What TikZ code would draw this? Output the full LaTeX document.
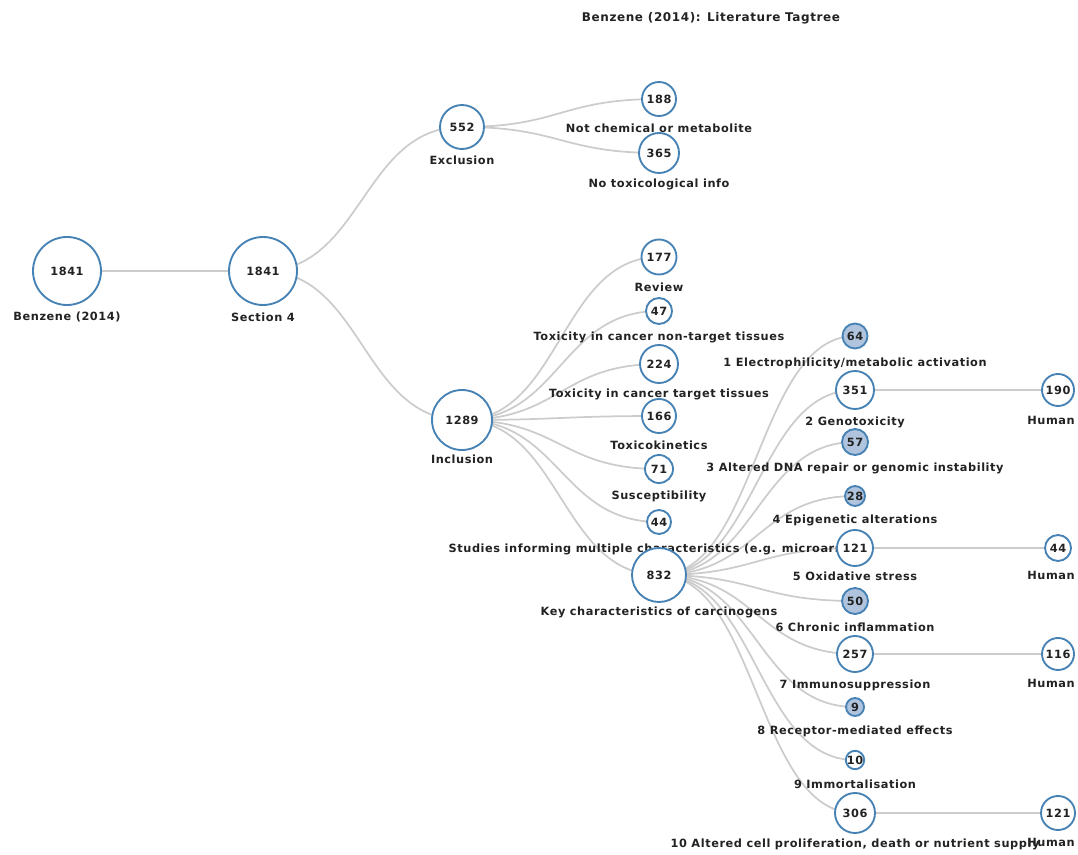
\documentclass[tikz,border=0pt]{standalone}
\usepackage{fontspec}
\setmainfont{DejaVu Sans}[LetterSpace=5]
\usetikzlibrary{calc}
\definecolor{nodeblue}{HTML}{4682B4}
\definecolor{nodefill}{HTML}{B0C4DE}
\definecolor{linkgray}{HTML}{CCCCCC}
\definecolor{txt}{HTML}{222222}
\tikzset{
  diag/.style={to path={let \p1=(\tikztostart), \p2=(\tikztotarget) in
     .. controls ({(\x1+\x2)/2},\y1) and ({(\x1+\x2)/2},\y2) .. (\tikztotarget)}},
  link/.style={draw=linkgray, line width=1.3pt},
  tnode/.style={circle, draw=nodeblue, line width=1.4pt, fill=white, inner sep=0pt,
     minimum size=#1*0.75pt, font=\fontsize{8.5}{10}\selectfont\bfseries, text=txt},
  cnode/.style={tnode=#1, fill=nodefill},
  lbl/.style={font=\fontsize{8.5}{10}\selectfont\bfseries, text=txt, inner sep=0pt},
  ttl/.style={font=\fontsize{9}{11}\selectfont\bfseries, text=txt, inner sep=0pt}
}
\begin{document}
\begin{tikzpicture}[x=0.75pt,y=-0.75pt]
\useasboundingbox (0,0) rectangle (1078,855);
\node[ttl] (title) at (711,18) {Benzene (2014): Literature Tagtree};

% coordinates of node centres
\coordinate (root) at (67,271);
\coordinate (sec) at (263,271);
\coordinate (exc) at (462,127);
\coordinate (nc) at (659,99);
\coordinate (nt) at (659,153);
\coordinate (inc) at (462,420);
\coordinate (rev) at (659,257);
\coordinate (tnt) at (659,311);
\coordinate (tt) at (659,364);
\coordinate (tk) at (659,416);
\coordinate (sus) at (659,469);
\coordinate (sim) at (659,522);
\coordinate (kc) at (659,575);
\coordinate (k1) at (855,336);
\coordinate (k2) at (855,390);
\coordinate (h2) at (1058,390);
\coordinate (k3) at (855,442);
\coordinate (k4) at (855,496);
\coordinate (k5) at (855,548);
\coordinate (h5) at (1058,548);
\coordinate (k6) at (855,601);
\coordinate (k7) at (855,654);
\coordinate (h7) at (1058,654);
\coordinate (k8) at (855,707);
\coordinate (k9) at (855,760);
\coordinate (k10) at (855,813);
\coordinate (h10) at (1058,813);

% links
\foreach \a/\b in {root/sec, sec/exc, sec/inc, exc/nc, exc/nt,
  inc/rev, inc/tnt, inc/tt, inc/tk, inc/sus, inc/sim, inc/kc,
  kc/k1, kc/k2, kc/k3, kc/k4, kc/k5, kc/k6, kc/k7, kc/k8, kc/k9, kc/k10,
  k2/h2, k5/h5, k7/h7, k10/h10}
  \draw[link] (\a) to[diag] (\b);

% labels
\node[lbl] (root-l) at (67,317) {Benzene (2014)};
\node[lbl] (sec-l) at (263,317) {Section 4};
\node[lbl] (exc-l) at (462,160) {Exclusion};
\node[lbl] (nc-l) at (659,128) {Not chemical or metabolite};
\node[lbl] (nt-l) at (659,184) {No toxicological info};
\node[lbl] (inc-l) at (462,459) {Inclusion};
\node[lbl] (rev-l) at (659,287) {Review};
\node[lbl] (tnt-l) at (659,337) {Toxicity in cancer non-target tissues};
\node[lbl] (tt-l) at (659,394) {Toxicity in cancer target tissues};
\node[lbl] (tk-l) at (659,445) {Toxicokinetics};
\node[lbl] (sus-l) at (659,496) {Susceptibility};
\node[lbl] (sim-l) at (659,549) {Studies informing multiple characteristics (e.g. microarrays)};
\node[lbl] (kc-l) at (659,612) {Key characteristics of carcinogens};
\node[lbl] (k1-l) at (855,363) {1 Electrophilicity/metabolic activation};
\node[lbl] (k2-l) at (855,422) {2 Genotoxicity};
\node[lbl] (h2-l) at (1051,420) {Human};
\node[lbl] (k3-l) at (855,468) {3 Altered DNA repair or genomic instability};
\node[lbl] (k4-l) at (855,520) {4 Epigenetic alterations};
\node[lbl] (k5-l) at (855,576) {5 Oxidative stress};
\node[lbl] (h5-l) at (1051,575) {Human};
\node[lbl] (k6-l) at (855,627) {6 Chronic inflammation};
\node[lbl] (k7-l) at (855,685) {7 Immunosuppression};
\node[lbl] (h7-l) at (1051,683) {Human};
\node[lbl] (k8-l) at (855,731) {8 Receptor-mediated effects};
\node[lbl] (k9-l) at (855,784) {9 Immortalisation};
\node[lbl] (h10-l) at (1051,842) {Human};
\node[lbl] (k10-l) at (855,844) {10 Altered cell proliferation, death or nutrient supply};

% circles
\node[tnode=68] (n-root) at (root) {1841};
\node[tnode=68] (n-sec) at (sec) {1841};
\node[tnode=44] (n-exc) at (exc) {552};
\node[tnode=34] (n-nc) at (nc) {188};
\node[tnode=40] (n-nt) at (nt) {365};
\node[tnode=60] (n-inc) at (inc) {1289};
\node[tnode=35] (n-rev) at (rev) {177};
\node[tnode=26] (n-tnt) at (tnt) {47};
\node[tnode=38] (n-tt) at (tt) {224};
\node[tnode=34] (n-tk) at (tk) {166};
\node[tnode=28] (n-sus) at (sus) {71};
\node[tnode=24] (n-sim) at (sim) {44};
\node[tnode=54] (n-kc) at (kc) {832};
\node[cnode=25] (n-k1) at (k1) {64};
\node[tnode=38] (n-k2) at (k2) {351};
\node[tnode=32] (n-h2) at (h2) {190};
\node[cnode=26] (n-k3) at (k3) {57};
\node[cnode=20] (n-k4) at (k4) {28};
\node[tnode=36] (n-k5) at (k5) {121};
\node[tnode=26] (n-h5) at (h5) {44};
\node[cnode=26] (n-k6) at (k6) {50};
\node[tnode=36] (n-k7) at (k7) {257};
\node[tnode=32] (n-h7) at (h7) {116};
\node[cnode=18] (n-k8) at (k8) {9};
\node[tnode=18] (n-k9) at (k9) {10};
\node[tnode=40] (n-k10) at (k10) {306};
\node[tnode=34] (n-h10) at (h10) {121};
\end{tikzpicture}
\end{document}
